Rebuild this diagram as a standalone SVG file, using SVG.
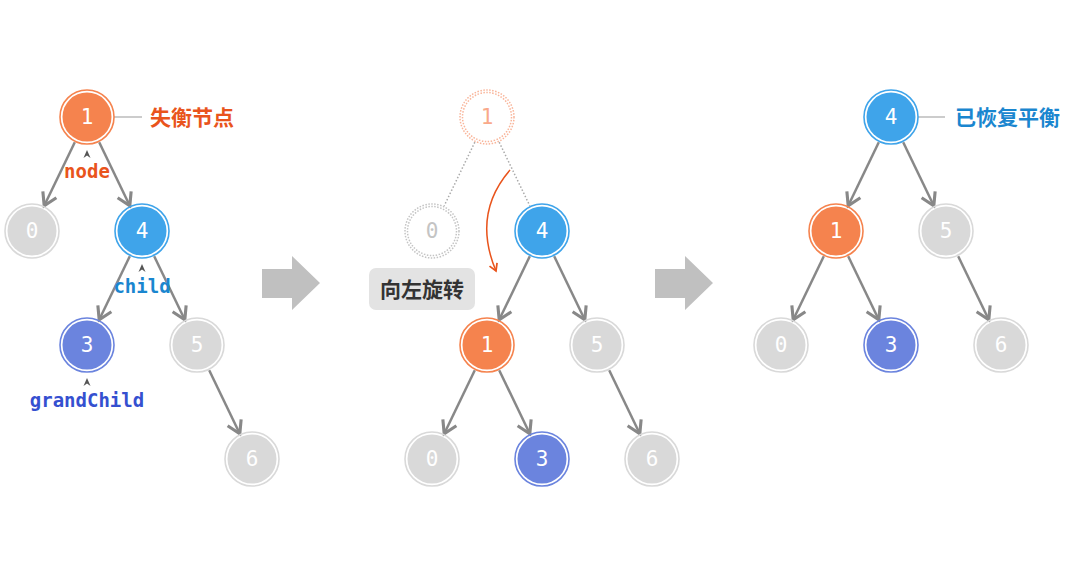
<svg xmlns="http://www.w3.org/2000/svg" width="1084" height="571" viewBox="0 0 1084 571">
<defs>
<style>
.ring{fill:none;stroke-width:1.6}
.dig{font-family:"DejaVu Sans Mono","Liberation Mono",monospace;font-size:21px;fill:#fff;text-anchor:middle;dominant-baseline:central}
.or .ring{stroke:#f5834e}.or .fill{fill:#f5834e}
.bl .ring{stroke:#3fa4ea}.bl .fill{fill:#3fa4ea}
.pu .ring{stroke:#6b84de}.pu .fill{fill:#6b84de}
.gr .ring{stroke:#d9d9d9}.gr .fill{fill:#d9d9d9}
.edge{stroke:#888;stroke-width:2.5;fill:none;marker-end:url(#ah)}
.dot{stroke:#aaa;stroke-width:1.5;fill:none;stroke-dasharray:1.5 2}
.lab{font-family:"DejaVu Sans Mono","Liberation Mono",monospace;font-size:19px;font-weight:bold;text-anchor:middle}
.cjk{font-family:"Noto Sans CJK SC","Noto Sans",sans-serif;font-size:21px;font-weight:bold}
.caret{fill:#555}
.lead{stroke:#999;stroke-width:1}
.big{fill:#c0c0c0}
</style>
<marker id="ah" markerUnits="userSpaceOnUse" markerWidth="20" markerHeight="20" viewBox="-12 -8 14 16" refX="0" refY="0" orient="auto">
<path d="M-10,-6 L0,0 L-10,6" fill="none" stroke="#888" stroke-width="2.5"/>
</marker>
<marker id="ah2" markerUnits="userSpaceOnUse" markerWidth="14" markerHeight="14" viewBox="-8 -6 10 12" refX="0" refY="0" orient="auto">
<path d="M-6,-3.5 L0,0 L-6,3.5" fill="none" stroke="#e9541c" stroke-width="1.5"/>
</marker>
</defs>

<g id="connectors">
<path class="edge" d="M74.8,142.2 L44.2,205.8"/>
<path class="edge" d="M99.2,142.2 L129.8,205.8"/>
<path class="edge" d="M129.8,256.2 L99.2,319.8"/>
<path class="edge" d="M154.2,256.2 L184.8,319.8"/>
<path class="edge" d="M209.2,370.2 L239.8,433.8"/>
<path class="dot" d="M474.8,142.2 L444.2,205.8"/>
<path class="dot" d="M499.2,142.2 L529.8,205.8"/>
<path class="edge" d="M529.8,256.2 L499.2,319.8"/>
<path class="edge" d="M554.2,256.2 L584.8,319.8"/>
<path class="edge" d="M474.8,370.2 L444.2,433.8"/>
<path class="edge" d="M499.2,370.2 L529.8,433.8"/>
<path class="edge" d="M609.2,370.2 L639.8,433.8"/>
<path class="edge" d="M878.8,142.2 L848.2,205.8"/>
<path class="edge" d="M903.2,142.2 L933.8,205.8"/>
<path class="edge" d="M823.8,256.2 L793.2,319.8"/>
<path class="edge" d="M848.2,256.2 L878.8,319.8"/>
<path class="edge" d="M958.2,256.2 L988.8,319.8"/>
<line class="lead" x1="114" y1="117" x2="142" y2="117"/>
<line class="lead" x1="918" y1="117" x2="945" y2="117"/>
<path d="M510,170 Q472,214 496,271" fill="none" stroke="#e9541c" stroke-width="1.5" marker-end="url(#ah2)"/>
</g>

<g id="arrow1"><path class="big" d="M262,269 L292,269 L292,256 L320,283 L292,310 L292,298 L262,298 Z"/></g>
<g id="arrow2"><path class="big" d="M655,269 L685,269 L685,256 L713,283 L685,310 L685,298 L655,298 Z"/></g>

<g id="L1" class="or"><circle class="ring" cx="87" cy="117" r="27"/><circle class="fill" cx="87" cy="117" r="24.5"/><text class="dig" x="87" y="117">1</text></g>
<g id="L0" class="gr"><circle class="ring" cx="32" cy="231" r="27"/><circle class="fill" cx="32" cy="231" r="24.5"/><text class="dig" x="32" y="231">0</text></g>
<g id="L4" class="bl"><circle class="ring" cx="142" cy="231" r="27"/><circle class="fill" cx="142" cy="231" r="24.5"/><text class="dig" x="142" y="231">4</text></g>
<g id="L3" class="pu"><circle class="ring" cx="87" cy="345" r="27"/><circle class="fill" cx="87" cy="345" r="24.5"/><text class="dig" x="87" y="345">3</text></g>
<g id="L5" class="gr"><circle class="ring" cx="197" cy="345" r="27"/><circle class="fill" cx="197" cy="345" r="24.5"/><text class="dig" x="197" y="345">5</text></g>
<g id="L6" class="gr"><circle class="ring" cx="252" cy="459" r="27"/><circle class="fill" cx="252" cy="459" r="24.5"/><text class="dig" x="252" y="459">6</text></g>

<g id="labels-left">
<text class="cjk" x="150" y="125" fill="#e9541c">失衡节点</text>
<path class="caret" d="M83.5,158 L87,150 L90.5,158 L87,155.5 Z"/>
<text class="lab" x="87" y="178" fill="#e9541c">node</text>
<path class="caret" d="M138.5,272 L142,264 L145.5,272 L142,269.5 Z"/>
<text class="lab" x="142" y="293" fill="#1a86cf">child</text>
<path class="caret" d="M83.5,386 L87,378 L90.5,386 L87,383.5 Z"/>
<text class="lab" x="87" y="407" fill="#3550d0">grandChild</text>
</g>

<g id="M1ghost">
<circle cx="487" cy="117" r="27" fill="none" stroke="#f9b59a" stroke-width="1.5" stroke-dasharray="1.5 1.5"/>
<circle cx="487" cy="117" r="24.5" fill="none" stroke="#f9b59a" stroke-width="1.5" stroke-dasharray="1.5 1.5"/>
<text class="dig" x="487" y="117" style="fill:#f9a98a">1</text>
</g>
<g id="M0ghost">
<circle cx="432" cy="231" r="27" fill="none" stroke="#c4c4c4" stroke-width="1.5" stroke-dasharray="1.5 1.5"/>
<circle cx="432" cy="231" r="24.5" fill="none" stroke="#c4c4c4" stroke-width="1.5" stroke-dasharray="1.5 1.5"/>
<text class="dig" x="432" y="231" style="fill:#c4c4c4">0</text>
</g>
<g id="M4" class="bl"><circle class="ring" cx="542" cy="231" r="27"/><circle class="fill" cx="542" cy="231" r="24.5"/><text class="dig" x="542" y="231">4</text></g>
<g id="M1" class="or"><circle class="ring" cx="487" cy="345" r="27"/><circle class="fill" cx="487" cy="345" r="24.5"/><text class="dig" x="487" y="345">1</text></g>
<g id="M5" class="gr"><circle class="ring" cx="597" cy="345" r="27"/><circle class="fill" cx="597" cy="345" r="24.5"/><text class="dig" x="597" y="345">5</text></g>
<g id="M0" class="gr"><circle class="ring" cx="432" cy="459" r="27"/><circle class="fill" cx="432" cy="459" r="24.5"/><text class="dig" x="432" y="459">0</text></g>
<g id="M3" class="pu"><circle class="ring" cx="542" cy="459" r="27"/><circle class="fill" cx="542" cy="459" r="24.5"/><text class="dig" x="542" y="459">3</text></g>
<g id="M6" class="gr"><circle class="ring" cx="652" cy="459" r="27"/><circle class="fill" cx="652" cy="459" r="24.5"/><text class="dig" x="652" y="459">6</text></g>

<g id="rotate-label">
<rect x="369" y="268" width="106" height="42" rx="7" fill="#e3e3e3"/>
<text class="cjk" x="422" y="297" text-anchor="middle" fill="#333">向左旋转</text>
</g>

<g id="R4" class="bl"><circle class="ring" cx="891" cy="117" r="27"/><circle class="fill" cx="891" cy="117" r="24.5"/><text class="dig" x="891" y="117">4</text></g>
<g id="R1" class="or"><circle class="ring" cx="836" cy="231" r="27"/><circle class="fill" cx="836" cy="231" r="24.5"/><text class="dig" x="836" y="231">1</text></g>
<g id="R5" class="gr"><circle class="ring" cx="946" cy="231" r="27"/><circle class="fill" cx="946" cy="231" r="24.5"/><text class="dig" x="946" y="231">5</text></g>
<g id="R0" class="gr"><circle class="ring" cx="781" cy="345" r="27"/><circle class="fill" cx="781" cy="345" r="24.5"/><text class="dig" x="781" y="345">0</text></g>
<g id="R3" class="pu"><circle class="ring" cx="891" cy="345" r="27"/><circle class="fill" cx="891" cy="345" r="24.5"/><text class="dig" x="891" y="345">3</text></g>
<g id="R6" class="gr"><circle class="ring" cx="1001" cy="345" r="27"/><circle class="fill" cx="1001" cy="345" r="24.5"/><text class="dig" x="1001" y="345">6</text></g>

<g id="label-right">
<text class="cjk" x="955" y="125" fill="#1a86cf">已恢复平衡</text>
</g>
</svg>
